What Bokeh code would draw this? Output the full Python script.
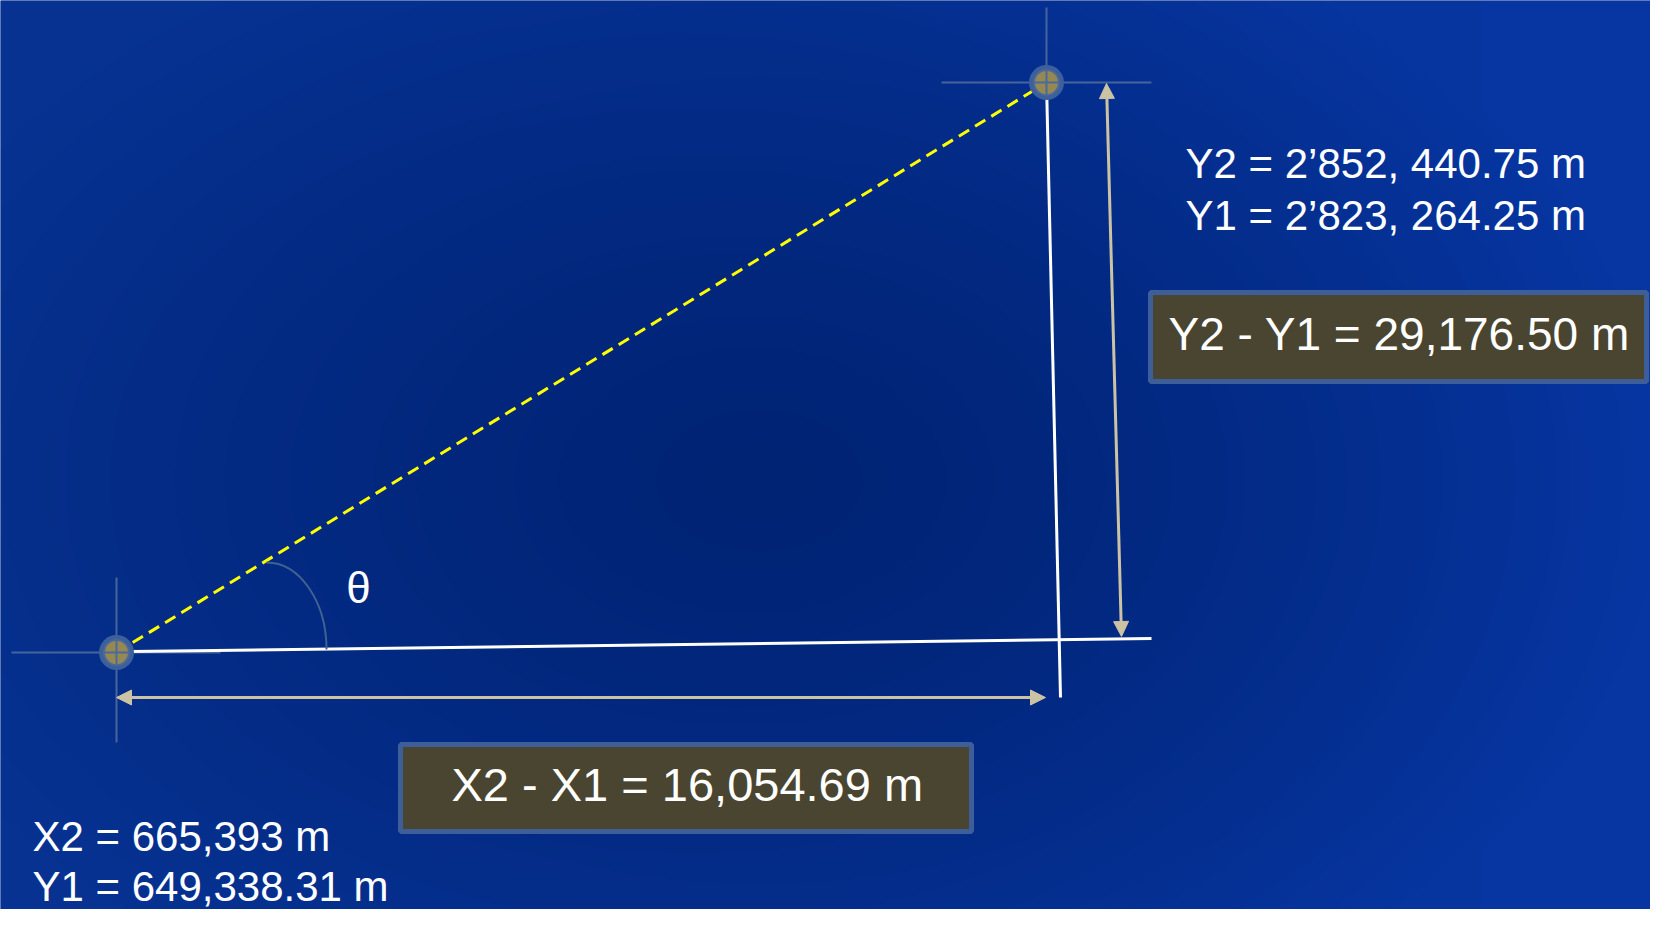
import numpy as np
from bokeh.plotting import figure
from bokeh.models import Range1d, Arrow, NormalHead
from bokeh.core.properties import value
from bokeh.embed import file_html
from bokeh.resources import INLINE

W, H = 1666, 925
FW, FH = 1650, 909

# ---- texts (values) ----
y_labels = ["Y2 = 2\u2019852, 440.75 m", "Y1 = 2\u2019823, 264.25 m"]
x_labels = ["X2 = 665,393 m", "Y1 = 649,338.31 m"]
dy_label = "Y2 - Y1 = 29,176.50 m"
dx_label = "X2 - X1 = 16,054.69 m"
angle_label = "\u03b8"

# ---- geometry (page pixels, y downward) ----
pt_x = [116, 1046]
pt_y = [652, 82]
base_x = [131, 1151]
base_y = [651, 638]
vert_x = [1046, 1060]
vert_y = [82, 697]
harrow_x = [116, 1045]
harrow_y = [697, 697]
varrow_x = [1106, 1121]
varrow_y = [83, 636]
cross_h_x = [[941, 1151], [11, 220]]
cross_h_y = [[82, 82], [652, 652]]
cross_v_x = [[1046, 1046], [116, 116]]
cross_v_y = [[7, 82], [577, 742]]
arc_start = (266, 562)
arc_end = (326, 649)
box_dy = dict(left=1150, right=1646, top=292, bottom=381)
box_dx = dict(left=400, right=971, top=744, bottom=831)
ylab_pos = dict(x=1185, y=[163, 215])
xlab_pos = dict(x=32, y=[836, 886])
dy_text_pos = (1168, 333)
dx_text_pos = (451, 784)
theta_pos = (358, 587)

FONT = value("Liberation Sans")
BEIGE = "#cbc3a3"
STEEL = "#46659c"
BOXFILL = "#4a4530"
BOXLINE = "#3d5e98"


def fy(v):
    if isinstance(v, (list, tuple)):
        return [H - a for a in v]
    return H - v


p = figure(width=FW, height=FH, x_range=Range1d(0, FW), y_range=Range1d(H - FH, H),
           output_backend="svg", toolbar_location=None, min_border=0,
           x_axis_type=None, y_axis_type=None)
p.grid.visible = False
p.outline_line_color = None
p.background_fill_color = "#002a8a"
p.border_fill_color = "#002a8a"

# background gradient
gw, gh = W // 2, (H + 1) // 2
gx = (np.arange(gw) + 0.5) * (W / gw)
gy = (np.arange(gh) + 0.5) * (H / gh)
GX, GY = np.meshgrid(gx, gy)
d = np.sqrt(((GX - 760) / 900) ** 2 + ((GY - 480) / 620) ** 2)
t = np.clip(d, 0, 1) ** 1.3
center = np.array([0, 35, 116], dtype=float)
edge = np.array([7, 50, 145], dtype=float)
rgb = center[None, None, :] * (1 - t[..., None]) + edge[None, None, :] * t[..., None]
rgb[..., 2] += 18 * (GX / W) * t
rgb[..., 1] += 4 * (GX / W) * t
rgb = np.clip(rgb, 0, 255).astype(np.uint8)
img = np.empty((gh, gw), dtype=np.uint32)
view = img.view(dtype=np.uint8).reshape((gh, gw, 4))
view[..., 0] = rgb[..., 0]
view[..., 1] = rgb[..., 1]
view[..., 2] = rgb[..., 2]
view[..., 3] = 255
img = img[::-1]
p.image_rgba(image=[img], x=0, y=0, dw=W, dh=H)

# crosshairs
p.multi_line(xs=cross_h_x, ys=[fy(v) for v in cross_h_y], line_color=STEEL, line_width=2)
p.multi_line(xs=cross_v_x, ys=[fy(v) for v in cross_v_y], line_color=STEEL, line_width=2)

# white lines
p.line(base_x, fy(base_y), line_color="white", line_width=3)
p.line(vert_x, fy(vert_y), line_color="white", line_width=3)

# dashed yellow line
p.line(pt_x, fy(pt_y), line_color="#ffff00", line_width=3, line_dash="12 7")

# angle arc (quarter ellipse)
rx = arc_end[0] - arc_start[0]
ry = arc_end[1] - arc_start[1]
k = 0.5523
p.bezier(x0=[arc_start[0]], y0=[fy(arc_start[1])], x1=[arc_end[0]], y1=[fy(arc_end[1])],
         cx0=[arc_start[0] + k * rx], cy0=[fy(arc_start[1])],
         cx1=[arc_end[0]], cy1=[fy(arc_end[1] - k * ry)],
         line_color="#3f6293", line_width=2)

# dimension arrows
for xs, ys in [(harrow_x, harrow_y), (varrow_x, varrow_y)]:
    p.add_layout(Arrow(
        start=NormalHead(size=15, fill_color=BEIGE, line_color=BEIGE),
        end=NormalHead(size=15, fill_color=BEIGE, line_color=BEIGE),
        x_start=xs[0], y_start=fy(ys[0]), x_end=xs[1], y_end=fy(ys[1]),
        line_color=BEIGE, line_width=3))

# points
p.scatter(pt_x, fy(pt_y), marker="circle", size=35, fill_color="#3d5f9c", line_color=None)
p.scatter(pt_x, fy(pt_y), marker="circle_cross", size=25, fill_color="#968852",
          line_color="#4a6a9c", line_width=2)

# boxes
for b in (box_dy, box_dx):
    p.quad(left=[b["left"]], right=[b["right"]], top=[fy(b["top"])], bottom=[fy(b["bottom"])],
           fill_color=BOXFILL, line_color=BOXLINE, line_width=5)

# texts (vertical position = middle of capitals)
common = dict(text_font=FONT, text_color="white", text_baseline="middle")
p.text(x=[ylab_pos["x"]] * 2, y=fy(ylab_pos["y"]), text=y_labels,
       text_font_size="42px", text_align="left", **common)
p.text(x=[xlab_pos["x"]] * 2, y=fy(xlab_pos["y"]), text=x_labels,
       text_font_size="42px", text_align="left", **common)
p.text(x=[dy_text_pos[0]], y=[fy(dy_text_pos[1])], text=[dy_label],
       text_font_size="46px", text_align="left", **common)
p.text(x=[dx_text_pos[0]], y=[fy(dx_text_pos[1])], text=[dx_label],
       text_font_size="47px", text_align="left", **common)
p.text(x=[theta_pos[0]], y=[fy(theta_pos[1])], text=[angle_label],
       text_font_size="44px", text_align="center", **common)

open("out.html", "w").write(file_html(p, INLINE))
